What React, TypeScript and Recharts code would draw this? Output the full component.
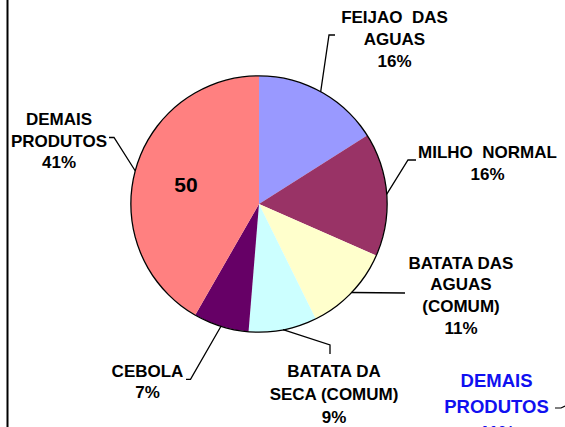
import React from 'react';
import { PieChart, Pie, Cell } from 'recharts';

// ---- data ----
const categories = [
  'FEIJAO DAS AGUAS',
  'MILHO NORMAL',
  'BATATA DAS AGUAS (COMUM)',
  'BATATA DA SECA (COMUM)',
  'CEBOLA',
  'DEMAIS PRODUTOS',
];
const shares = [16.0, 15.6, 11.1, 8.6, 7.0, 41.7];
const percentLabels = ['16%', '16%', '11%', '9%', '7%', '41%'];
const nameLines = [
  ['FEIJAO  DAS', 'AGUAS'],
  ['MILHO  NORMAL'],
  ['BATATA DAS', 'AGUAS', '(COMUM)'],
  ['BATATA DA', 'SECA (COMUM)'],
  ['CEBOLA'],
  ['DEMAIS', 'PRODUTOS'],
];
const innerValueLabels = ['', '', '', '', '', '50'];
const cutLegendLines = ['DEMAIS', 'PRODUTOS', '41%'];

// ---- styles / layout ----
const colors = ['#9999FF', '#993366', '#FFFFCC', '#CCFFFF', '#660066', '#FF8080'];
const CX = 259;
const CY = 204;
const R = 128;
const FONT = '"Liberation Sans", Arial, sans-serif';

type LabelLayout = { tx: number; ty: number; lh: number; leader: [number, number][] };
const labelLayout: LabelLayout[] = [
  { tx: 135.5, ty: -181.3, lh: 22, leader: [[70, -169], [76, -169]] },
  { tx: 228.5, ty: -45.7, lh: 22, leader: [[149, -44], [157, -44]] },
  { tx: 202, ty: 64.5, lh: 21.7, leader: [[146, 89]] },
  { tx: 75, ty: 173, lh: 23, leader: [[71, 141], [71, 150]] },
  { tx: -111.5, ty: 172.7, lh: 21.5, leader: [[-68.5, 175.3], [-73, 175.3]] },
  { tx: -200, ty: -79, lh: 21.5, leader: [[-145, -66.5], [-150, -66.5]] },
];

const tableData = categories.map((c, i) => ({ name: c, value: shares[i] }));
const ringData = [{ name: 'ring', value: 1 }];
const RAD = Math.PI / 180;

const renderLabel = (props: any) => {
  const { cx, cy, midAngle, outerRadius, index } = props;
  const lay = labelLayout[index];
  const sx = cx + outerRadius * Math.cos(-midAngle * RAD);
  const sy = cy + outerRadius * Math.sin(-midAngle * RAD);
  const pts = [[sx, sy], ...lay.leader.map(([dx, dy]) => [cx + dx, cy + dy])];
  const lines = [...nameLines[index], percentLabels[index]];
  const ix = cx + outerRadius * 0.59 * Math.cos(-midAngle * RAD);
  const iy = cy + outerRadius * 0.59 * Math.sin(-midAngle * RAD);
  return (
    <g key={`lbl-${index}`}>
      <polyline
        points={pts.map((p) => p.join(',')).join(' ')}
        fill="none"
        stroke="#000"
        strokeWidth={1.3}
      />
      {lines.map((t, k) => (
        <text
          key={k}
          x={cx + lay.tx}
          y={cy + lay.ty + k * lay.lh}
          textAnchor="middle"
          fontFamily={FONT}
          fontWeight="bold"
          fontSize={17}
          fill="#000"
          style={{ whiteSpace: 'pre' }}
        >
          {t}
        </text>
      ))}
      {innerValueLabels[index] ? (
        <text
          x={ix}
          y={iy}
          textAnchor="middle"
          dominantBaseline="central"
          fontFamily={FONT}
          fontWeight="bold"
          fontSize={21}
          fill="#000"
        >
          {innerValueLabels[index]}
        </text>
      ) : null}
    </g>
  );
};

export default function App() {
  return (
    <div style={{ position: 'absolute', left: 0, top: 0, width: 565, height: 427, background: '#fff' }}>
      <PieChart width={565} height={427} margin={{ top: 0, right: 0, bottom: 0, left: 0 }}>
        <Pie
          data={tableData}
          dataKey="value"
          nameKey="name"
          cx={CX}
          cy={CY}
          outerRadius={R}
          startAngle={90}
          endAngle={-270}
          stroke="none"
          label={renderLabel}
          labelLine={false}
          isAnimationActive={false}
        >
          {tableData.map((d, i) => (
            <Cell key={d.name} fill={colors[i]} stroke="none" />
          ))}
        </Pie>
        <Pie
          data={ringData}
          dataKey="value"
          cx={CX}
          cy={CY}
          innerRadius={R - 0.5}
          outerRadius={R + 0.8}
          startAngle={90}
          endAngle={-270}
          fill="#000"
          stroke="none"
          isAnimationActive={false}
        />
      </PieChart>
      <svg
        width={565}
        height={427}
        style={{ position: 'absolute', left: 0, top: 0, pointerEvents: 'none' }}
      >
        <line x1={7.5} y1={0} x2={7.5} y2={427} stroke="#000" strokeWidth={2} />
        {cutLegendLines.map((t, k) => (
          <text
            key={t}
            x={496.5}
            y={386.7 + k * 26}
            textAnchor="middle"
            fontFamily={FONT}
            fontWeight="bold"
            fontSize={18.5}
            fill="#1010F0"
          >
            {t}
          </text>
        ))}
        <polyline points="555,408 561,408 565,406" fill="none" stroke="#000" strokeWidth={1.2} />
      </svg>
    </div>
  );
}
